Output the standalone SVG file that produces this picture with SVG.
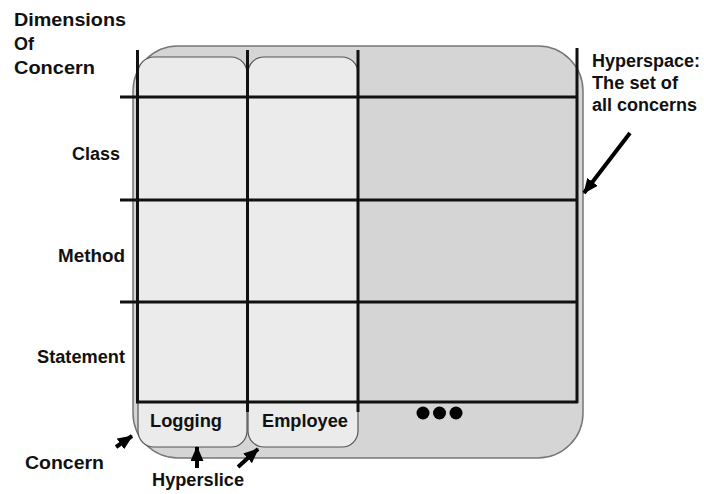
<svg xmlns="http://www.w3.org/2000/svg" width="704" height="494" viewBox="0 0 704 494">
<style>
text{font-family:"Liberation Sans",Arial,sans-serif;font-weight:bold;font-size:18px;fill:#111}
.grid{stroke:#111;stroke-width:3;fill:none}
.slice{fill:#ebebeb;stroke:#555;stroke-width:1.2}
.arr{stroke:#000;stroke-width:4;fill:none;marker-end:url(#ah)}
</style>
<defs>
<marker id="ah" markerUnits="userSpaceOnUse" viewBox="0 0 15 13" refX="14" refY="6.5" markerWidth="15" markerHeight="13" orient="auto">
<path d="M0,0 L15,6.5 L0,13 Z" fill="#000"/>
</marker>
</defs>
<rect width="704" height="494" fill="#fff"/>
<g id="hyperspace">
<rect x="133" y="46" width="450" height="412" rx="45" fill="#d5d5d5" stroke="#777" stroke-width="1.5"/>
</g>
<g id="slice-logging">
<rect class="slice" x="138" y="57" width="109" height="390" rx="16"/>
<text x="150" y="427" textLength="72" lengthAdjust="spacingAndGlyphs">Logging</text>
</g>
<g id="slice-employee">
<rect class="slice" x="248" y="57" width="110" height="390" rx="16"/>
<text x="262" y="427" textLength="86" lengthAdjust="spacingAndGlyphs">Employee</text>
</g>
<g id="grid">
<line class="grid" x1="137.5" y1="50" x2="137.5" y2="403"/>
<line class="grid" x1="247.5" y1="50" x2="247.5" y2="412"/>
<line class="grid" x1="358" y1="50" x2="358" y2="412"/>
<line class="grid" x1="577" y1="48" x2="577" y2="403"/>
<line class="grid" x1="120" y1="97" x2="578" y2="97"/>
<line class="grid" x1="120" y1="200" x2="578" y2="200"/>
<line class="grid" x1="120" y1="302" x2="578" y2="302"/>
<line class="grid" x1="136" y1="402" x2="578" y2="402"/>
</g>
<g id="dots">
<circle cx="423" cy="413" r="6.5" fill="#000"/>
<circle cx="439.5" cy="413" r="6.5" fill="#000"/>
<circle cx="456" cy="413" r="6.5" fill="#000"/>
</g>
<g id="labels">
<text x="14" y="26" textLength="112" lengthAdjust="spacingAndGlyphs">Dimensions</text>
<text x="14" y="50">Of</text>
<text x="14" y="74" textLength="81" lengthAdjust="spacingAndGlyphs">Concern</text>
<text x="72" y="160" textLength="48" lengthAdjust="spacingAndGlyphs">Class</text>
<text x="58" y="262" textLength="67" lengthAdjust="spacingAndGlyphs">Method</text>
<text x="37" y="363" textLength="88" lengthAdjust="spacingAndGlyphs">Statement</text>
<text x="592" y="67" textLength="108" lengthAdjust="spacingAndGlyphs">Hyperspace:</text>
<text x="592" y="89" textLength="86" lengthAdjust="spacingAndGlyphs">The set of</text>
<text x="592" y="111" textLength="105" lengthAdjust="spacingAndGlyphs">all concerns</text>
<text x="25" y="469" textLength="79" lengthAdjust="spacingAndGlyphs">Concern</text>
<text x="152" y="486" textLength="92" lengthAdjust="spacingAndGlyphs">Hyperslice</text>
</g>
<g id="connectors">
<line class="arr" x1="630" y1="133" x2="584" y2="193"/>
<line class="arr" x1="116" y1="447" x2="132" y2="436"/>
<line class="arr" x1="197" y1="468" x2="197" y2="447"/>
<line class="arr" x1="238" y1="467" x2="258" y2="449"/>
</g>
</svg>
